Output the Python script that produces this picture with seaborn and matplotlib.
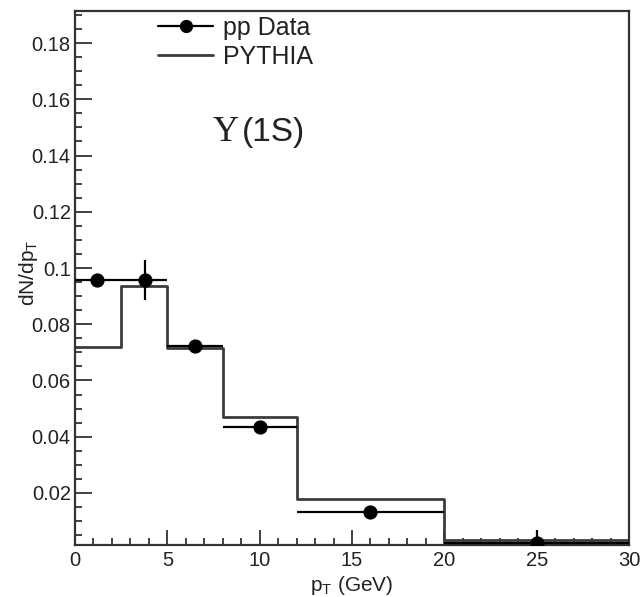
import matplotlib
matplotlib.use("Agg")
import matplotlib.pyplot as plt
from matplotlib.lines import Line2D
from matplotlib.ticker import MultipleLocator, FixedLocator
import numpy as np
import pandas as pd
import seaborn as sns

# ---- data ----
bin_edges = [0, 2.5, 5, 8, 12, 20, 30]
data_x = [1.2, 3.8, 6.5, 10.0, 16.0, 25.0]
data_y = [0.0957, 0.0957, 0.0724, 0.0435, 0.0131, 0.0023]
data_yerr = [0.002, 0.007, 0.002, 0.002, 0.0015, 0.0045]
pythia_y = [0.0720, 0.0937, 0.0715, 0.0471, 0.0179, 0.0033]
y_ticks = [0.02, 0.04, 0.06, 0.08, 0.1, 0.12, 0.14, 0.16, 0.18]
y_tick_labels = ["0.02", "0.04", "0.06", "0.08", "0.1", "0.12", "0.14", "0.16", "0.18"]
x_ticks = [0, 5, 10, 15, 20, 25, 30]
x_tick_labels = ["0", "5", "10", "15", "20", "25", "30"]
legend_labels = ["pp Data", "PYTHIA"]
title_text = ["\u03a5", "(1S)"]

sns.set_style("ticks")
plt.rcParams["font.family"] = ["Liberation Sans", "DejaVu Sans"]
plt.rcParams["mathtext.fontset"] = "custom"
plt.rcParams["mathtext.rm"] = "Liberation Sans"
plt.rcParams["mathtext.it"] = "Liberation Sans"

TXT = "#222222"
HIST_C = "#3c3c3c"

fig = plt.figure(figsize=(6.42, 5.97), dpi=100)
ax = fig.add_axes([75 / 642, 1 - 545 / 597, (629 - 75) / 642, (545 - 11) / 597])

edges = np.array(bin_edges, dtype=float)
centers = (edges[:-1] + edges[1:]) / 2
hist_df = pd.DataFrame({"pt": centers, "w": pythia_y})
sns.histplot(data=hist_df, x="pt", weights="w", bins=list(bin_edges), element="step",
             fill=False, color=HIST_C, linewidth=2.0, ax=ax)

# data error bars (horizontal = bin extent)
dx = np.array(data_x)
xerr = np.vstack([dx - edges[:-1], edges[1:] - dx])
ax.errorbar(dx, data_y, yerr=data_yerr, xerr=xerr, fmt="none", ecolor="black",
            elinewidth=1.6, capsize=0, zorder=3)
sns.scatterplot(x=data_x, y=data_y, color="black", s=105, edgecolor="black",
                linewidth=0, zorder=4, ax=ax)

ax.set_xlim(0, 30)
ax.set_ylim(0.0015, 0.1914)

ax.xaxis.set_major_locator(FixedLocator(x_ticks))
ax.set_xticklabels(x_tick_labels)
ax.xaxis.set_minor_locator(MultipleLocator(1))
ax.yaxis.set_major_locator(FixedLocator(y_ticks))
ax.set_yticklabels(y_tick_labels)
ax.yaxis.set_minor_locator(MultipleLocator(0.005))

ax.tick_params(axis="both", which="both", direction="in", colors="#333333",
               labelcolor=TXT, labelsize=14.5, top=False, right=False)
ax.tick_params(axis="x", which="major", length=11, width=1.3, pad=4)
ax.tick_params(axis="x", which="minor", length=5, width=1.3)
ax.tick_params(axis="y", which="major", length=12, width=1.3, pad=3)
ax.tick_params(axis="y", which="minor", length=5, width=1.3)

for sp in ax.spines.values():
    sp.set_color("#333333")
    sp.set_linewidth(1.6)
    sp.set_visible(True)

ax.set_xlabel(r"p$_{\mathrm{T}}$ (GeV)", fontsize=15, color=TXT)
ax.xaxis.set_label_coords(0.5, -0.055)
ax.set_ylabel(r"dN/dp$_{\mathrm{T}}$", fontsize=15, color=TXT)
ax.yaxis.set_label_coords(-0.064, 0.51)

# title
ax.text(0.248, 0.772, title_text[0], transform=ax.transAxes, fontsize=26,
        family="Liberation Serif", color=TXT, ha="left", va="center")
ax.text(0.302, 0.772, title_text[1], transform=ax.transAxes, fontsize=24,
        color=TXT, ha="left", va="center")

handles = [Line2D([], [], color="black", marker="o", markersize=8.5, lw=1.6),
           Line2D([], [], color=HIST_C, lw=2.0)]
ax.legend(handles, legend_labels, loc="upper left", bbox_to_anchor=(0.15, 0.991),
          frameon=False, fontsize=18, handlelength=2.2, handletextpad=0.4,
          labelspacing=0.2, borderpad=0.0, borderaxespad=0.0, labelcolor=TXT)

fig.savefig("out.png", dpi=100)
